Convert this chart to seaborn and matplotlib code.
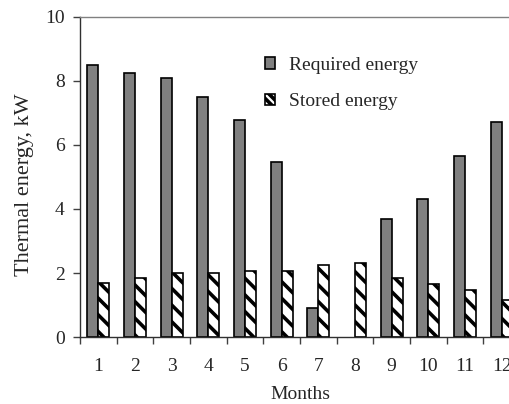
import pandas as pd
import matplotlib
matplotlib.use("Agg")
import matplotlib.pyplot as plt
from matplotlib.patches import Patch
from matplotlib.ticker import FixedLocator
import seaborn as sns

# ── Data ──────────────────────────────────────────────────────────────────
months = [1, 2, 3, 4, 5, 6, 7, 8, 9, 10, 11, 12]
required_energy = [8.5, 8.26, 8.08, 7.49, 6.78, 5.48, 0.92, 0.0, 3.7, 4.3, 5.67, 6.73]
stored_energy = [1.7, 1.83, 2.0, 2.0, 2.05, 2.05, 2.25, 2.3, 1.85, 1.65, 1.47, 1.15]
series_names = ["Required energy", "Stored energy"]

df = pd.DataFrame({
    "month": months * 2,
    "energy": required_energy + stored_energy,
    "series": [series_names[0]] * len(months) + [series_names[1]] * len(months),
})

sns.set_style("white")
plt.rcParams["font.family"] = ["Liberation Serif", "DejaVu Serif"]
plt.rcParams["hatch.linewidth"] = 2.6
FS = 14

fig = plt.figure(figsize=(5.10, 4.04), dpi=100)
ax = fig.add_axes([80 / 510, 67 / 404, 440 / 510, 320 / 404])

sns.barplot(
    data=df, x="month", y="energy", hue="series",
    palette=["#808080", "white"], width=0.6, gap=0,
    edgecolor="black", linewidth=1.2, legend=False, ax=ax,
)
for bar in ax.containers[1]:
    bar.set_hatch("\\\\")
# a zero-height bar draws nothing in the original
for cont in ax.containers:
    for bar in cont:
        if bar.get_height() == 0:
            bar.set_visible(False)

ax.set_xlim(-0.5, 11.5)
ax.set_ylim(0, 10)
ax.set_yticks([0, 2, 4, 6, 8, 10])
ax.tick_params(axis="y", left=True, length=5, width=1, color="#404040",
               labelsize=FS, pad=6)
ax.tick_params(axis="x", which="major", length=0, labelsize=FS, pad=15)
ax.xaxis.set_minor_locator(FixedLocator([i - 0.5 for i in range(13)]))
ax.tick_params(axis="x", which="minor", bottom=True, length=5, width=1,
               color="#404040")

for side in ["left", "bottom"]:
    ax.spines[side].set_color("#303030")
    ax.spines[side].set_linewidth(1.0)
ax.spines["top"].set_color("#808080")
ax.spines["top"].set_linewidth(1.0)
ax.spines["right"].set_visible(False)

ax.set_xlabel("Months", fontsize=FS)
ax.xaxis.set_label_coords(0.5, -0.152)
ax.set_ylabel("Thermal energy, kW", fontsize=16)
ax.yaxis.set_label_coords(-0.104, 0.475)

handles = [
    Patch(facecolor="#808080", edgecolor="black", linewidth=1.2),
    Patch(facecolor="white", edgecolor="black", linewidth=1.2, hatch="\\\\\\\\"),
]
ax.legend(handles, series_names, loc="upper left", bbox_to_anchor=(0.38, 0.93),
          frameon=False, fontsize=FS, handlelength=0.52, handleheight=0.52,
          handletextpad=0.75, labelspacing=1.0)

fig.savefig("out.png", dpi=100)
